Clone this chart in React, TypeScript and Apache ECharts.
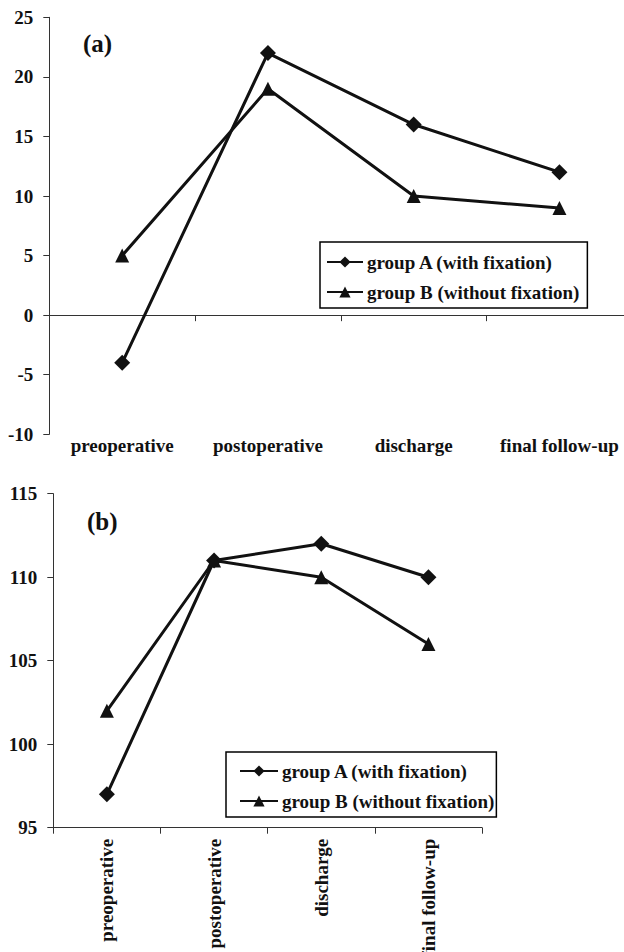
import React, { useEffect, useRef } from "react";
import * as echarts from "echarts";

const categories = ["preoperative", "postoperative", "discharge", "final follow-up"];
const seriesNames = ["group A (with fixation)", "group B (without fixation)"];
const panelAGroupA = [-4, 22, 16, 12];
const panelAGroupB = [5, 19, 10, 9];
const panelBGroupA = [97, 111, 112, 110];
const panelBGroupB = [102, 111, 110, 106];
const panelAMin = -10;
const panelAMax = 25;
const panelBMin = 95;
const panelBMax = 115;
const tickInterval = 5;
const panelLabels = ["(a)", "(b)"];

const FONT = "'Liberation Serif', 'Times New Roman', serif";
const INK = "#111";
const AXIS = "#333";

function lineSeries(name: string, data: number[], symbol: string, size: number, xi: number, yi: number) {
  return {
    type: "line",
    name,
    data,
    xAxisIndex: xi,
    yAxisIndex: yi,
    symbol,
    symbolSize: size,
    showAllSymbol: true,
    lineStyle: { color: INK, width: 3 },
    itemStyle: { color: INK },
    emphasis: { disabled: true },
  };
}

const labelStyle = { fontFamily: FONT, fontWeight: "bold" as const, fontSize: 19, color: INK };

export default function App() {
  const ref = useRef<HTMLDivElement>(null);
  useEffect(() => {
    if (!ref.current) return;
    const chart = echarts.init(ref.current, undefined, { renderer: "svg" });
    const legendCommon = {
      orient: "vertical",
      data: seriesNames,
      borderColor: "#000",
      borderWidth: 1.5,
      backgroundColor: "#fff",
      itemGap: 10,
      itemHeight: 14,
      selectedMode: false,
      textStyle: { ...labelStyle, lineHeight: 20, padding: [0, 0, 0, -1] },
    };
    chart.setOption({
      animation: false,
      backgroundColor: "#fff",
      grid: [
        { left: 49.3, top: 17.3, width: 583, height: 417, outerBoundsMode: "none", containLabel: false },
        { left: 53.3, top: 493.7, width: 428.7, height: 334, outerBoundsMode: "none", containLabel: false },
      ],
      xAxis: [
        {
          type: "category",
          gridIndex: 0,
          data: categories,
          position: "bottom",
          axisLine: { show: true, onZero: true, lineStyle: { color: AXIS, width: 1 } },
          axisTick: { show: true, length: 6, lineStyle: { color: AXIS, width: 1 } },
          axisLabel: { show: false },
          splitLine: { show: false },
        },
        {
          type: "category",
          gridIndex: 0,
          data: categories,
          position: "bottom",
          axisLine: { show: false, onZero: false },
          axisTick: { show: false },
          axisLabel: { show: true, interval: 0, margin: 2, ...labelStyle },
          splitLine: { show: false },
        },
        {
          type: "category",
          gridIndex: 1,
          data: categories,
          position: "bottom",
          axisLine: { show: true, onZero: false, lineStyle: { color: AXIS, width: 1 } },
          axisTick: { show: true, length: 6, lineStyle: { color: AXIS, width: 1 } },
          axisLabel: { show: true, interval: 0, rotate: 90, margin: 11, ...labelStyle },
          splitLine: { show: false },
        },
      ],
      yAxis: [
        {
          type: "value",
          gridIndex: 0,
          min: panelAMin,
          max: panelAMax,
          interval: tickInterval,
          axisLine: { show: true, onZero: false, lineStyle: { color: AXIS, width: 1 } },
          axisTick: { show: true, length: 6, lineStyle: { color: AXIS, width: 1 } },
          axisLabel: { margin: 16, ...labelStyle },
          splitLine: { show: false },
        },
        {
          type: "value",
          gridIndex: 1,
          min: panelBMin,
          max: panelBMax,
          interval: tickInterval,
          axisLine: { show: true, onZero: false, lineStyle: { color: AXIS, width: 1 } },
          axisTick: { show: true, length: 6, lineStyle: { color: AXIS, width: 1 } },
          axisLabel: { margin: 16, ...labelStyle },
          splitLine: { show: false },
        },
      ],
      legend: [
        {
          ...legendCommon,
          left: 320,
          top: 242,
          itemWidth: 36,
          padding: [10, 8, 6, 6],
        },
        {
          ...legendCommon,
          left: 226,
          top: 752,
          itemWidth: 38,
          padding: [9, 2, 6, 13],
        },
      ],
      graphic: [
        {
          type: "text",
          left: 83,
          top: 31,
          style: { text: panelLabels[0], font: `bold 25px ${FONT}`, fill: INK },
        },
        {
          type: "text",
          left: 87,
          top: 509,
          style: { text: panelLabels[1], font: `bold 25px ${FONT}`, fill: INK },
        },
      ],
      series: [
        lineSeries(seriesNames[0], panelAGroupA, "diamond", 16, 0, 0),
        lineSeries(seriesNames[1], panelAGroupB, "triangle", 14, 0, 0),
        lineSeries(seriesNames[0], panelBGroupA, "diamond", 16, 2, 1),
        lineSeries(seriesNames[1], panelBGroupB, "triangle", 14, 2, 1),
      ],
    });
    return () => chart.dispose();
  }, []);
  return (
    <div
      ref={ref}
      style={{ position: "absolute", left: 0, top: 0, width: 624, height: 952, background: "#fff" }}
    />
  );
}
